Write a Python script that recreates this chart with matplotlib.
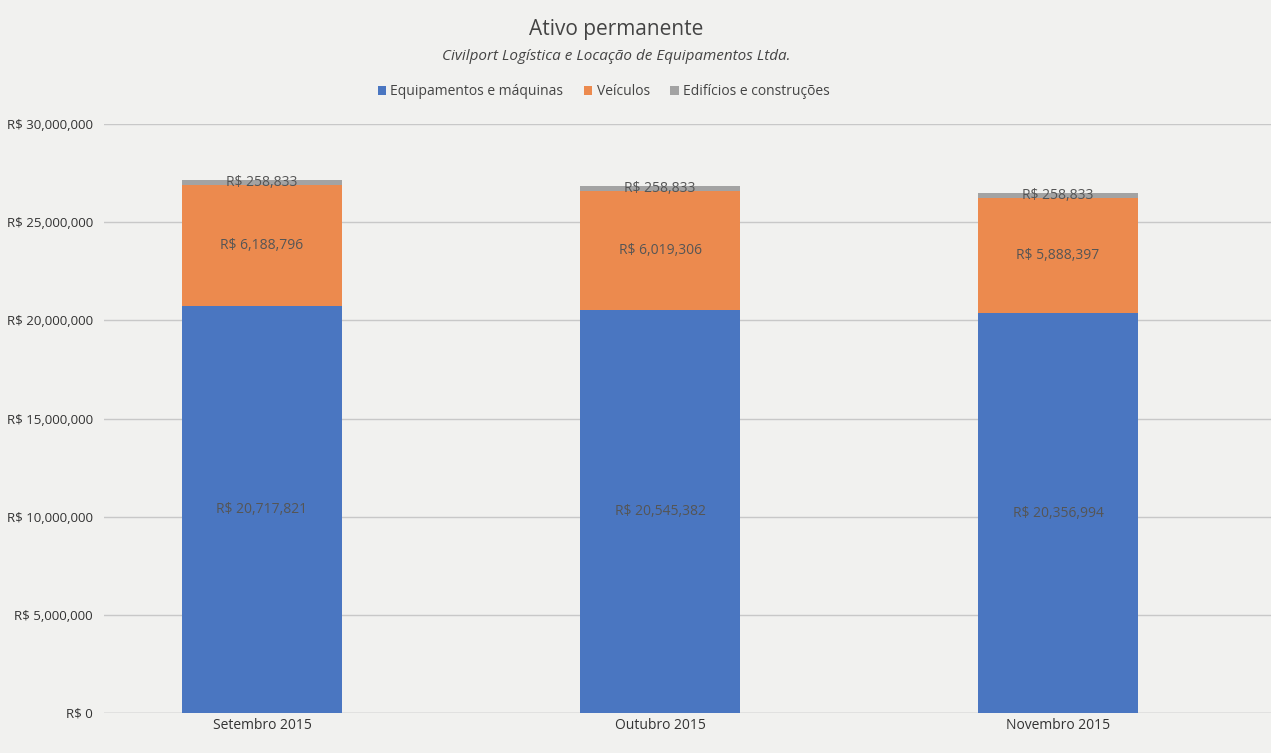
import matplotlib.pyplot as plt
import numpy as np
from matplotlib.ticker import FuncFormatter

plt.rcParams['font.family'] = ['Open Sans', 'DejaVu Sans']

meses = ['Setembro 2015', 'Outubro 2015', 'Novembro 2015']
equipamentos = [20717821, 20545382, 20356994]
veiculos = [6188796, 6019306, 5888397]
edificios = [258833, 258833, 258833]
series_nomes = ['Equipamentos e máquinas', 'Veículos', 'Edifícios e construções']
cores = ['#4a76c1', '#ec8a4e', '#a3a3a3']
yticks = [0, 5000000, 10000000, 15000000, 20000000, 25000000, 30000000]


def brl(v, pos=None):
    if v == 0:
        return 'R$ 0'
    return 'R$ {:,.0f}'.format(v)


fig = plt.figure(figsize=(12.71, 7.53), dpi=100)
fig.patch.set_facecolor('#f1f1ef')
ax = fig.add_axes([104 / 1271, 40 / 753, 1167 / 1271, 589 / 753])
ax.set_facecolor('#f1f1ef')

x = np.arange(len(meses))
w = 0.4
ax.bar(x, equipamentos, w, color=cores[0], label=series_nomes[0], zorder=2)
ax.bar(x, veiculos, w, bottom=equipamentos, color=cores[1], label=series_nomes[1], zorder=2)
base2 = np.array(equipamentos) + np.array(veiculos)
ax.bar(x, edificios, w, bottom=base2, color=cores[2], label=series_nomes[2], zorder=2)

for i in range(len(meses)):
    ax.text(x[i], equipamentos[i] / 2, brl(equipamentos[i]), ha='center', va='center',
            fontsize=10, color='#555555', zorder=3)
    ax.text(x[i], equipamentos[i] + veiculos[i] / 2, brl(veiculos[i]), ha='center',
            va='center', fontsize=10, color='#555555', zorder=3)
    ax.text(x[i], base2[i] + edificios[i] / 2, brl(edificios[i]), ha='center',
            va='center', fontsize=10, color='#555555', zorder=3)

ax.set_xlim(-0.397, 2.535)
ax.set_ylim(0, 30000000)
ax.set_yticks(yticks)
ax.yaxis.set_major_formatter(FuncFormatter(brl))
ax.set_xticks(x)
ax.set_xticklabels(meses)
ax.tick_params(axis='both', length=0, labelsize=10, colors='#333333')
ax.tick_params(axis='y', labelsize=9.5, pad=8)
ax.grid(axis='y', color='#c8c8c8', linewidth=1, zorder=0)
for s in ax.spines.values():
    s.set_visible(False)
ax.axhline(0, color='#c8c8c8', linewidth=1, zorder=1)

fig.text(0.485, 0.975, 'Ativo permanente', ha='center', va='top', fontsize=15, color='#444444')
fig.text(0.485, 0.935, 'Civilport Logística e Locação de Equipamentos Ltda.', ha='center',
         va='top', fontsize=11, style='italic', color='#444444')
fig.legend(loc='upper center', bbox_to_anchor=(0.475, 0.905), ncol=3, frameon=False,
           fontsize=10, handlelength=0.6, handleheight=0.6, columnspacing=1.5,
           handletextpad=0.3, labelcolor='#444444')

fig.savefig('out.png', dpi=100, facecolor=fig.get_facecolor())
